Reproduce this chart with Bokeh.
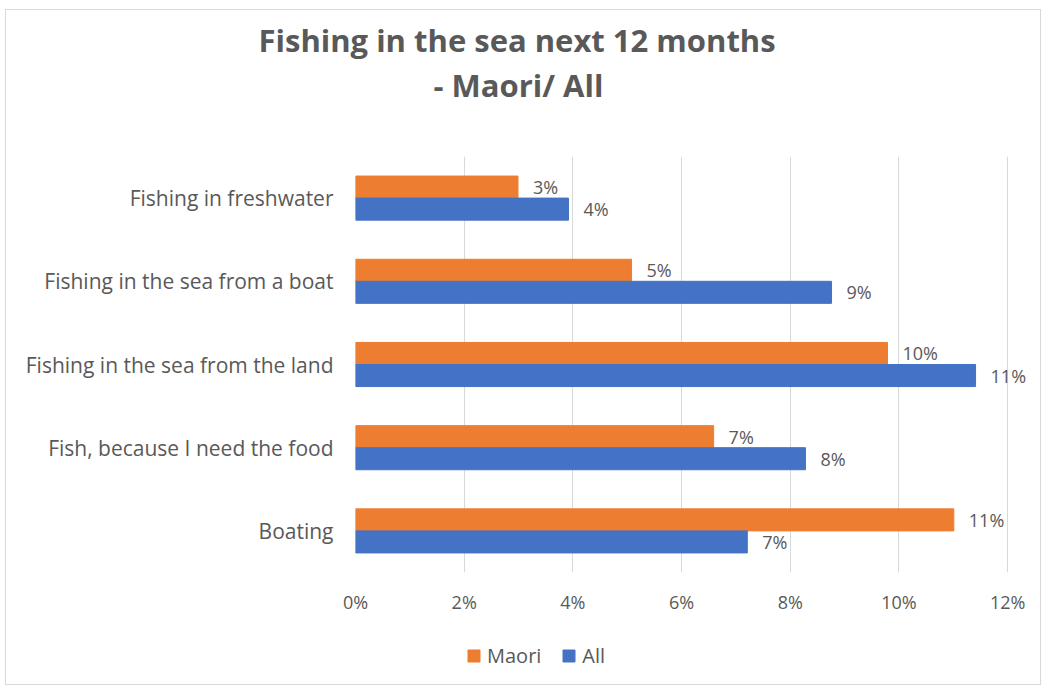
from bokeh.plotting import figure
from bokeh.layouts import column
from bokeh.models import (ColumnDataSource, FactorRange, Range1d, FixedTicker,
                          NumeralTickFormatter, Title, Legend, LegendItem, LabelSet)
from bokeh.transform import dodge
from bokeh.embed import file_html
from bokeh.resources import INLINE
from bokeh.core.properties import value

categories = ["Fishing in freshwater", "Fishing in the sea from a boat",
              "Fishing in the sea from the land", "Fish, because I need the food", "Boating"]
maori = [0.0299, 0.0508, 0.0979, 0.0659, 0.1101]
all_ = [0.0392, 0.0876, 0.1141, 0.0828, 0.0721]
x_ticks = [0, 0.02, 0.04, 0.06, 0.08, 0.10, 0.12]
title_lines = ["Fishing in the sea next 12 months", "- Maori/ All"]
series_names = ["Maori", "All"]

ORANGE = "#ED7D31"
BLUE = "#4472C4"
TXT = "#595959"
FONT = "Open Sans"

src = ColumnDataSource(dict(
    cat=categories, maori=maori, all=all_,
    maori_lbl=[f"{round(v*100):.0f}%" for v in maori],
    all_lbl=[f"{round(v*100):.0f}%" for v in all_],
))

yr = FactorRange(factors=list(reversed(categories)), range_padding=0)
xr = Range1d(0, 0.1255)

p = figure(width=1034, height=620, output_backend="svg", toolbar_location=None,
           y_range=yr, x_range=xr,
           min_border_left=349, min_border_right=3, min_border_top=146, min_border_bottom=58)
p.outline_line_color = None
p.background_fill_color = "white"

bh = 0.265
r1 = p.hbar(y=dodge("cat", bh / 2, range=yr), right="maori", left=0, height=bh,
            source=src, fill_color=ORANGE, line_color=ORANGE)
r2 = p.hbar(y=dodge("cat", -bh / 2, range=yr), right="all", left=0, height=bh,
            source=src, fill_color=BLUE, line_color=BLUE)

p.add_layout(LabelSet(x="maori", y=dodge("cat", bh / 2, range=yr), text="maori_lbl",
                      source=src, x_offset=15, text_baseline="middle", text_font=value(FONT),
                      text_font_size="18px", text_color=TXT))
p.add_layout(LabelSet(x="all", y=dodge("cat", -bh / 2, range=yr), text="all_lbl",
                      source=src, x_offset=15, text_baseline="middle", text_font=value(FONT),
                      text_font_size="18px", text_color=TXT))

p.xaxis.ticker = FixedTicker(ticks=x_ticks)
p.xaxis.formatter = NumeralTickFormatter(format="0%")
for ax in (p.xaxis, p.yaxis):
    ax.axis_line_color = None
    ax.major_tick_line_color = None
    ax.minor_tick_line_color = None
    ax.major_label_text_font = FONT
    ax.major_label_text_color = TXT
p.xaxis.major_label_text_font_size = "18px"
p.yaxis.major_label_text_font_size = "21px"
p.xaxis.major_label_standoff = 11
p.yaxis.major_label_standoff = 16
p.xgrid.grid_line_color = "#d9d9d9"
p.xgrid.ticker = FixedTicker(ticks=x_ticks)
p.ygrid.grid_line_color = None

# spacer closest to the frame, then the two title lines
p.add_layout(Title(text=" ", text_font=FONT, text_font_size="16px", standoff=24), "above")
p.add_layout(Title(text=title_lines[1], align="left", offset=78, standoff=6, text_font=FONT,
                   text_font_style="bold", text_font_size="31px", text_color=TXT), "above")
p.add_layout(Title(text=title_lines[0], align="left", offset=-97, standoff=-4, text_font=FONT,
                   text_font_style="bold", text_font_size="31px", text_color=TXT), "above")

# legend strip below the chart
q = figure(width=1034, height=54, output_backend="svg", toolbar_location=None,
           x_range=xr, y_range=yr, min_border=0,
           x_axis_location=None, y_axis_location=None)
q.outline_line_color = None
q.xgrid.grid_line_color = None
q.ygrid.grid_line_color = None
q1 = q.hbar(y="cat", right="maori", left=0, height=bh, source=src,
            fill_color=ORANGE, line_color=ORANGE, visible=False)
q2 = q.hbar(y="cat", right="all", left=0, height=bh, source=src,
            fill_color=BLUE, line_color=BLUE, visible=False)
legend = Legend(items=[LegendItem(label=series_names[0], renderers=[q1]),
                       LegendItem(label=series_names[1], renderers=[q2])],
                orientation="horizontal", location=(111, 15), margin=0,
                label_text_font=FONT, label_text_font_size="20px", label_text_color=TXT,
                glyph_width=15, glyph_height=15, label_standoff=6, spacing=20,
                padding=5, border_line_color=None, background_fill_alpha=0,
                inactive_fill_alpha=0)
q.add_layout(legend, "center")

layout = column(p, q, spacing=0,
                styles={"border": "1px solid #d9d9d9", "margin-left": "5px", "margin-top": "9px"})

open("out.html", "w").write(file_html(layout, INLINE))
